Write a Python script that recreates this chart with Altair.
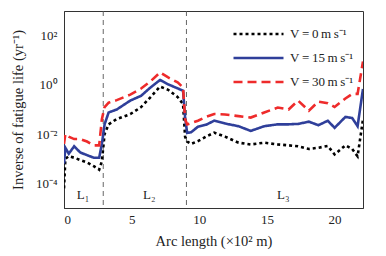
import altair as alt
import pandas as pd

arc_x = [0, 0.1, 0.35, 0.75, 1.2, 1.7, 2.2, 2.6, 2.8, 3.0, 3.3, 3.9, 4.9, 5.7, 6.4,
         7.1, 7.7, 8.4, 8.8, 8.95, 9.1, 9.4, 9.9, 10.5, 11.1, 11.9, 12.9, 13.8,
         14.8, 15.8, 16.6, 17.3, 18.1, 18.8, 19.5, 20.0, 20.8, 21.3, 21.7, 22.1]

v0 = [6.3e-5, 1.0e-3, 1.26e-3, 1.1e-3, 8.9e-4, 7.1e-4, 5.0e-4, 3.6e-4, 7.9e-4, 1.0e-2,
      2.5e-2, 4.1e-2, 6.5e-2, 0.126, 0.32, 0.85, 0.63, 0.32, 0.166, 7.9e-3,
      5.0e-3, 4.0e-3, 5.2e-3, 7.9e-3, 1.15e-2, 7.9e-3, 4.5e-3, 3.8e-3, 4.5e-3, 3.8e-3,
      3.5e-3, 3.2e-3, 2.5e-3, 2.8e-3, 3.3e-3, 1.5e-3, 3.5e-3, 2.5e-3, 1.26e-3, 4.0e-2]

v15 = [6.3e-4, 2.8e-3, 1.6e-3, 3.2e-3, 1.8e-3, 1.4e-3, 1.1e-3, 1.1e-3, 4.0e-3, 2.5e-2,
       7.6e-2, 0.10, 0.23, 0.36, 0.79, 1.58, 1.05, 0.72, 0.58, 0.05,
       0.0112, 0.012, 0.02, 0.024, 0.035, 0.027, 0.021, 0.0135, 0.021, 0.025,
       0.025, 0.026, 0.032, 0.023, 0.035, 0.018, 0.05, 0.045, 0.021, 0.68]

v30 = [4.0e-3, 1.0e-2, 7.9e-3, 6.3e-3, 6.3e-3, 5.0e-3, 3.5e-3, 3.5e-3, 4.0e-2, 0.126,
       0.19, 0.24, 0.40, 0.71, 1.4, 3.2, 2.0, 1.26, 0.79, 0.04,
       0.025, 0.028, 0.035, 0.05, 0.066, 0.063, 0.054, 0.047, 0.076, 0.12,
       0.10, 0.23, 0.089, 0.21, 0.18, 0.126, 0.28, 0.43, 0.43, 8.9]

TS = "\u2009"
series_names = [f"V{TS}={TS}0{TS}m{TS}s\u207b\u00b9",
                f"V{TS}={TS}15{TS}m{TS}s\u207b\u00b9",
                f"V{TS}={TS}30{TS}m{TS}s\u207b\u00b9"]
series_colors = ["#000000", "#2f3f9a", "#ee2b2b"]
series_dash = [[3, 3], [1, 0], [9, 5]]

boundaries = [2.9, 9.05]
region_labels = ["L\u2081", "L\u2082", "L\u2083"]
region_x = [1.4, 6.3, 16.2]
region_y = [3.5e-5, 3.5e-5, 3.5e-5]

rows = []
for name, vals in zip(series_names, [v0, v15, v30]):
    for xv, yv in zip(arc_x, vals):
        rows.append({"x": xv, "y": yv, "series": name})
df = pd.DataFrame(rows)

FONT = "Liberation Serif"

xscale = alt.Scale(domain=[0, 22.1], nice=False, zero=False)
yscale = alt.Scale(type="log", domain=[1e-5, 1e3], nice=False)

def make_legend():
    return alt.Legend(title=None, orient="none", legendX=168, legendY=15,
                      symbolType="stroke", symbolSize=2500,
                      symbolStrokeWidth=2.6, clipHeight=16,
                      rowPadding=8, labelOffset=5, labelFont=FONT,
                      labelFontSize=13, labelColor="#222", padding=0)

lines = alt.Chart(df).mark_line(strokeWidth=2.6, strokeCap="butt", clip=True).encode(
    x=alt.X("x:Q", scale=xscale,
            axis=alt.Axis(title="Arc length (\u00d710\u00b2 m)", values=[0, 5, 10, 15, 20],
                          format="d", grid=False, ticks=False, labelPadding=5,
                          titlePadding=8)),
    y=alt.Y("y:Q", scale=yscale,
            axis=alt.Axis(title="Inverse of fatigue life (yr\u207b\u00b9)",
                          values=[1e-4, 1e-2, 1, 1e2], grid=False, ticks=False,
                          labelExpr="datum.value > 10 ? '10\u00b2' : datum.value > 0.1 ? '10\u2070' : datum.value > 0.001 ? '10\u207b\u00b2' : '10\u207b\u2074'",
                          labelPadding=7, titlePadding=10)),
    color=alt.Color("series:N", scale=alt.Scale(domain=series_names, range=series_colors),
                    legend=make_legend()),
    strokeDash=alt.StrokeDash("series:N", scale=alt.Scale(domain=series_names, range=series_dash),
                              legend=make_legend()),
    order=alt.Order("x:Q"),
)

bdf = pd.DataFrame({"x": boundaries})
rules = alt.Chart(bdf).mark_rule(color="#555555", strokeWidth=0.9, strokeDash=[5, 4]).encode(
    x=alt.X("x:Q", scale=xscale)
)

ldf = pd.DataFrame({"x": region_x, "y": region_y, "t": region_labels})
labels = alt.Chart(ldf).mark_text(font=FONT, fontSize=13, color="#222").encode(
    x=alt.X("x:Q", scale=xscale),
    y=alt.Y("y:Q", scale=yscale),
    text="t:N",
)

chart = alt.layer(rules, lines, labels).properties(
    width=299, height=197,
    padding={"left": 2, "top": 2, "right": 12, "bottom": 4},
).configure_view(stroke="#333333", strokeWidth=1).configure_axis(
    labelFont=FONT, titleFont=FONT, labelFontSize=13, titleFontSize=14.5,
    titleFontWeight="normal", labelColor="#222", titleColor="#222",
    domainColor="#333333",
)

chart.save("out.html", embed_options={"renderer": "svg", "actions": False})
